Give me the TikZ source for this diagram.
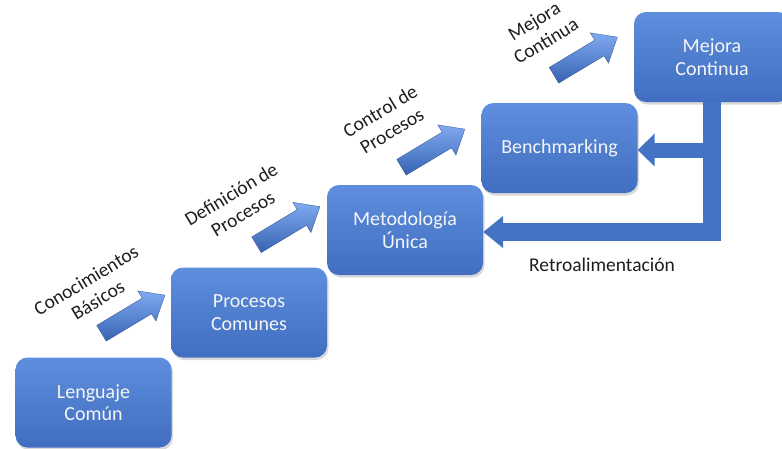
\documentclass[tikz,border=0pt]{standalone}
\usepackage{fontspec}
\setmainfont{Carlito}
\usetikzlibrary{shapes.arrows,shadows,arrows.meta,calc}
\definecolor{boxtop}{HTML}{5E8EDD}
\definecolor{boxmid}{HTML}{4A79CB}
\definecolor{boxbot}{HTML}{416EC0}
\definecolor{arrtop}{HTML}{80ABF0}
\definecolor{arrbot}{HTML}{3762B2}
\definecolor{flow}{HTML}{4472C4}
\definecolor{ink}{HTML}{1E1E1E}
\begin{document}
\begin{tikzpicture}[x=1pt,y=-1pt,
  stepbox/.style={rounded corners=12pt, minimum width=156pt, minimum height=90pt,
    inner sep=0pt, top color=boxtop, middle color=boxmid, bottom color=boxbot,
    text=white!96!black, align=center, font=\fontsize{20}{22.5}\selectfont,
    drop shadow={opacity=0.3, shadow xshift=1.5pt, shadow yshift=-2.5pt}},
  blockarrow/.style={single arrow, minimum height=74pt, minimum width=35pt,
    inner xsep=0pt, inner ysep=9pt, single arrow head extend=8.5pt,
    single arrow tip angle=80, rotate=31, top color=arrtop, bottom color=arrbot,
    draw=arrbot!80!black, line width=0.3pt},
  steplabel/.style={rotate=31, align=center, text=ink,
    font=\fontsize{19.5}{23}\selectfont},
  feedback/.style={draw=flow, line join=miter},
]
\useasboundingbox (0,0) rectangle (782,448);

% stair of steps
\node[stepbox] (lc) at (93.5,402.5) {Lenguaje\\Común};
\node[stepbox] (pc) at (249,312.5) {Procesos\\Comunes};
\node[stepbox] (mu) at (405,230) {Metodología\\Única};
\node[stepbox] (bm) at (559.5,148) {Benchmarking};
\node[stepbox] (mc) at (712,57) {Mejora\\Continua};

% block arrows between the steps
\coordinate (t1) at (97,337);  \coordinate (h1) at (160,297);
\coordinate (t2) at (252,247); \coordinate (h2) at (315,210);
\coordinate (t3) at (397,170); \coordinate (h3) at (460,132);
\coordinate (t4) at (549,78);  \coordinate (h4) at (613,40);
\node[blockarrow] (a1) at ($(t1)!.5!(h1)$) {};
\node[blockarrow] (a2) at ($(t2)!.5!(h2)$) {};
\node[blockarrow] (a3) at ($(t3)!.5!(h3)$) {};
\node[blockarrow] (a4) at ($(t4)!.5!(h4)$) {};

% labels above the arrows
\node[steplabel] (l1) at (92,290) {Conocimientos\\Básicos};
\node[steplabel] (l2) at (237,204) {Definición de\\Procesos};
\node[steplabel] (l3) at (386,121) {Control de\\Procesos};
\node[steplabel] (l4) at (540,31) {Mejora\\Continua};

% feedback loop
\coordinate (fb) at (711.5,232);
\draw[feedback, line width=15pt, -{Triangle[width=32pt,length=17pt]}]
  ($(bm.east)+(74,2)$) -- ($(bm.east)+(0,2)$);
\draw[feedback, line width=18pt, -{Triangle[width=31pt,length=20pt]}]
  (mc.south -| fb) -- (fb) -- ($(mu.east)+(0,2)$);
\node[text=ink, font=\fontsize{19.5}{23}\selectfont] (rt) at (602,265) {Retroalimentación};
\end{tikzpicture}
\end{document}
